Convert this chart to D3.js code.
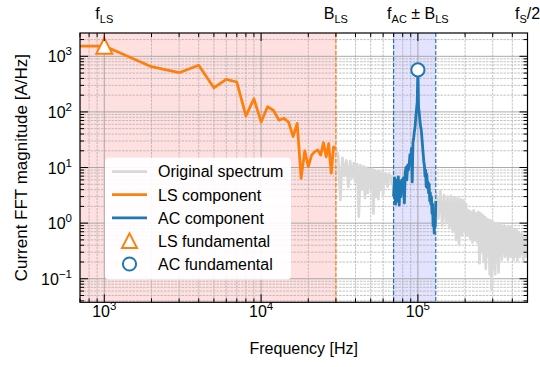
<!DOCTYPE html>
<html><head><meta charset="utf-8">
<script src="https://cdn.jsdelivr.net/npm/d3@7"></script>
<style>
body{margin:0;background:#fff}
svg{display:block}
text{font-family:"Liberation Sans",Arial,Helvetica,sans-serif;fill:#000}
</style>
</head><body>
<svg id="chart" width="540" height="367"></svg>
<script>
// ---------------- data (frequencies in kHz) ----------------
const lsFreqKHz = [0.6,1,2,3,4,5,6,7,8,9,10,11,12,13,14,15,16,17,18,19,20,21,22,23,24,25,26,27,28,29,30];
const lsValues  = [1530,1530,650,507,689,272,385,345,85,172,66,124,106,71,77,65,36,62,6.4,20,10.4,16.7,19.3,20.7,16.7,28,15.6,27,7.9,23.6,22];

const acStartKHz = 70, acStepKHz = 1;
const acValues = [3,6.5,2.2,6,2.5,6.8,2.1,5.5,3,6,4,6.5,2.3,8,10,6,11,9,11.5,17,14,22,5.5,28,34,45,55,80,110,150,
  570,120,95,70,55,48,35,25,18,13,11,7,9,4.5,7.5,4.3,5.5,3.5,5,2.5,3.5,2.2,3,1.5,2.2,0.9,1.6,0.66,1.2,0.9,2.5];

const origLowStartKHz = 30, origLowStepKHz = 1;
const origLowValues = [22,16.5,2.6,15,7,13.5,4.5,13,6.5,12,5.5,11.5,1.3,11,4,10.5,2.8,10,3.5,9.5,4.5,9.5,1.5,9,3,8.5,2.7,8.5,4,8,3.2,7.8,5.5,7.5,4.5,7.5,6,7.2,5,7,3];

const origHighStartKHz = 131, origHighStepKHz = 4;
const origHighValues = [3.5,1.2,3.8,0.9,3.2,1.0,3.0,0.8,3.1,0.7,2.9,0.5,2.8,0.4,2.7,0.6,2.6,0.7,2.2,0.6,
  1.7,0.55,1.6,0.45,1.7,0.5,1.5,0.45,1.6,0.19,1.5,0.3,1.4,0.2,1.3,0.15,1.2,0.25,1.15,0.12,
  1.1,0.066,1.05,0.15,1.0,0.12,1.0,0.2,0.95,0.13,0.9,0.28,0.95,0.22,0.85,0.3,0.9,0.25,0.85,0.3,
  0.8,0.22,0.85,0.3,0.8,0.25,0.85,0.3,0.8,0.22,0.75,0.3,0.7,0.25,0.75,0.21,0.7,0.3,0.65,0.25,
  0.6,0.3,0.65,0.28,0.6,0.22,0.6,0.3,0.55,0.25,0.6,0.3,0.55];

const lsFundamental = {fKHz: 1, value: 1530};
const acFundamental = {fKHz: 100, value: 570};
const bandLS = 30, fAC = 100, fS2 = 500;   // kHz
const yTicks = [-1,0,1,2,3];
const xTicks = [3,4,5];
const legendLabels = ["Original spectrum","LS component","AC component","LS fundamental","AC fundamental"];

// ---------------- layout ----------------
const L = 80, R = 527.5, T = 33, B = 302.3;
const svg = d3.select("#chart");
const x = d3.scaleLog().domain([700, 500000]).range([L, R]);
const y = d3.scaleLog().domain([0.0377, 2625]).range([B, T]);
const C_OR = "#ff7f0e", C_BL = "#1f77b4", C_GR = "#d9d9d9";

svg.append("clipPath").attr("id","clip").append("rect").attr("x",L).attr("y",T).attr("width",R-L).attr("height",B-T);
const plot = svg.append("g").attr("clip-path","url(#clip)");

// shading
plot.append("rect").attr("x",L).attr("y",T).attr("width",x(bandLS*1000)-L).attr("height",B-T).attr("fill","rgba(255,0,0,0.12)");
plot.append("rect").attr("x",x((fAC-bandLS)*1000)).attr("y",T)
  .attr("width",x((fAC+bandLS)*1000)-x((fAC-bandLS)*1000)).attr("height",B-T).attr("fill","rgba(0,0,255,0.11)");

// grid
const xMinor=[], xMajor=[], yMinor=[], yMajor=[];
for (let e=2;e<=5;e++) for (let m=1;m<=9;m++){const v=m*Math.pow(10,e); if(v>=700&&v<=500000)(m===1?xMajor:xMinor).push(v);}
for (let e=-2;e<=3;e++) for (let m=1;m<=9;m++){const v=m*Math.pow(10,e); if(v>=0.0377&&v<=2625)(m===1?yMajor:yMinor).push(v);}
const grid = plot.append("g");
grid.selectAll(".gxm").data(xMinor).join("line").attr("x1",d=>x(d)).attr("x2",d=>x(d)).attr("y1",T).attr("y2",B)
  .attr("stroke","#aaaaaa").attr("stroke-width",0.7).attr("stroke-dasharray","2.5,1");
grid.selectAll(".gym").data(yMinor).join("line").attr("y1",d=>y(d)).attr("y2",d=>y(d)).attr("x1",L).attr("x2",R)
  .attr("stroke","#aaaaaa").attr("stroke-width",0.7).attr("stroke-dasharray","2.5,1");
grid.selectAll(".gxM").data(xMajor).join("line").attr("x1",d=>x(d)).attr("x2",d=>x(d)).attr("y1",T).attr("y2",B)
  .attr("stroke","#a0a0a0").attr("stroke-width",0.9);
grid.selectAll(".gyM").data(yMajor).join("line").attr("y1",d=>y(d)).attr("y2",d=>y(d)).attr("x1",L).attr("x2",R)
  .attr("stroke","#a0a0a0").attr("stroke-width",0.9);

// series
const line = d3.line().x(d=>x(d[0]*1000)).y(d=>y(d[1]));
const lowPts = origLowValues.map((v,i)=>[origLowStartKHz+i*origLowStepKHz, v]);
const highPts = origHighValues.map((v,i)=>[origHighStartKHz+i*origHighStepKHz, v]);
const acPts = acValues.map((v,i)=>[acStartKHz+i*acStepKHz, v]);
const lsPts = lsFreqKHz.map((f,i)=>[f, lsValues[i]]);
plot.append("path").datum(lowPts).attr("d",line).attr("fill","none").attr("stroke",C_GR).attr("stroke-width",2.7).attr("stroke-linejoin","round");
plot.append("path").datum([acPts[acPts.length-1]].concat(highPts)).attr("d",line).attr("fill","none").attr("stroke",C_GR).attr("stroke-width",2.7).attr("stroke-linejoin","round");
plot.append("path").datum(lsPts).attr("d",line).attr("fill","none").attr("stroke",C_OR).attr("stroke-width",2.8).attr("stroke-linejoin","round");
plot.append("path").datum(acPts).attr("d",line).attr("fill","none").attr("stroke",C_BL).attr("stroke-width",2.8).attr("stroke-linejoin","round");

// dashed boundary lines
plot.append("line").attr("x1",x(bandLS*1000)).attr("x2",x(bandLS*1000)).attr("y1",T).attr("y2",B)
  .attr("stroke",C_OR).attr("stroke-width",1.2).attr("stroke-dasharray","4,2");
[(fAC-bandLS),(fAC+bandLS)].forEach(f=>{
  plot.append("line").attr("x1",x(f*1000)).attr("x2",x(f*1000)).attr("y1",T).attr("y2",B)
    .attr("stroke",C_BL).attr("stroke-width",1.2).attr("stroke-dasharray","4,2");
});

// markers
const tri = s => `M0,${-s}L${s},${s*0.95}L${-s},${s*0.95}Z`;
svg.append("path").attr("d",tri(8)).attr("transform",`translate(${x(lsFundamental.fKHz*1000)},${y(lsFundamental.value)})`)
  .attr("fill","#fff").attr("stroke",C_OR).attr("stroke-width",2);
svg.append("circle").attr("cx",x(acFundamental.fKHz*1000)).attr("cy",y(acFundamental.value)).attr("r",6.6)
  .attr("fill","#fff").attr("stroke",C_BL).attr("stroke-width",2);

// frame
svg.append("rect").attr("x",L).attr("y",T).attr("width",R-L).attr("height",B-T).attr("fill","none").attr("stroke","#000").attr("stroke-width",1.2);

// ticks (inward, all sides)
const tk = svg.append("g").attr("stroke","#000").attr("stroke-width",1);
xMajor.forEach(v=>{tk.append("line").attr("x1",x(v)).attr("x2",x(v)).attr("y1",B).attr("y2",B-8);
                   tk.append("line").attr("x1",x(v)).attr("x2",x(v)).attr("y1",T).attr("y2",T+8);});
xMinor.forEach(v=>{tk.append("line").attr("x1",x(v)).attr("x2",x(v)).attr("y1",B).attr("y2",B-4);
                   tk.append("line").attr("x1",x(v)).attr("x2",x(v)).attr("y1",T).attr("y2",T+4);});
yMajor.forEach(v=>{tk.append("line").attr("y1",y(v)).attr("y2",y(v)).attr("x1",L).attr("x2",L+8);
                   tk.append("line").attr("y1",y(v)).attr("y2",y(v)).attr("x1",R).attr("x2",R-8);});
yMinor.forEach(v=>{tk.append("line").attr("y1",y(v)).attr("y2",y(v)).attr("x1",L).attr("x2",L+4);
                   tk.append("line").attr("y1",y(v)).attr("y2",y(v)).attr("x1",R).attr("x2",R-4);});

// tick labels
function pow10(sel, e){
  sel.append("tspan").text("10");
  sel.append("tspan").attr("font-size",11.5).attr("dy",-7).text(e<0?"\u2212"+(-e):String(e));
}
xTicks.forEach(e=>{
  const t = svg.append("text").attr("x",x(Math.pow(10,e))).attr("y",317).attr("text-anchor","middle").attr("font-size",16);
  pow10(t,e);
});
yTicks.forEach(e=>{
  const t = svg.append("text").attr("x",72).attr("y",y(Math.pow(10,e))+6).attr("text-anchor","end").attr("font-size",16);
  pow10(t,e);
});

// axis labels
svg.append("text").attr("x",(L+R)/2).attr("y",354).attr("text-anchor","middle").attr("font-size",16).text("Frequency [Hz]");
svg.append("text").attr("transform",`translate(27,${(T+B)/2}) rotate(-90)`).attr("text-anchor","middle").attr("font-size",17)
  .text("Current FFT magnitude [A/Hz]");

// top annotations
function subLabel(xp, parts){
  const t = svg.append("text").attr("x",xp).attr("y",18.5).attr("text-anchor","middle").attr("font-size",16);
  parts.forEach(p=>{
    const s = t.append("tspan").text(p[0]);
    if (p[1]==="sub") s.attr("font-size",11).attr("dy",4);
    else if (p[1]==="up") s.attr("dy",-4);
  });
}
subLabel(x(lsFundamental.fKHz*1000), [["f"],["LS","sub"]]);
subLabel(x(bandLS*1000), [["B"],["LS","sub"]]);
subLabel(x(fAC*1000), [["f"],["AC","sub"],[" \u00B1 ","up"],["B"],["LS","sub"]]);
subLabel(x(fS2*1000), [["f"],["S","sub"],["/2","up"]]);

// legend
const lg = svg.append("g");
lg.append("rect").attr("x",105).attr("y",157.5).attr("width",186).attr("height",122).attr("rx",4).attr("fill","#fff").attr("fill-opacity",0.92);
const rows = [171.6,194.7,217.8,240.9,264];
const lgColors = [C_GR,C_OR,C_BL];
legendLabels.forEach((lab,i)=>{
  const ry = rows[i];
  if (i<3) lg.append("line").attr("x1",112).attr("x2",147).attr("y1",ry).attr("y2",ry).attr("stroke",lgColors[i]).attr("stroke-width",2.8);
  else if (i===3) lg.append("path").attr("d",tri(7.5)).attr("transform",`translate(129.5,${ry})`).attr("fill","#fff").attr("stroke",C_OR).attr("stroke-width",2);
  else lg.append("circle").attr("cx",129.5).attr("cy",ry).attr("r",6.6).attr("fill","#fff").attr("stroke",C_BL).attr("stroke-width",2);
  lg.append("text").attr("x",158).attr("y",ry+5.8).attr("font-size",16).text(lab);
});
</script>
</body></html>
